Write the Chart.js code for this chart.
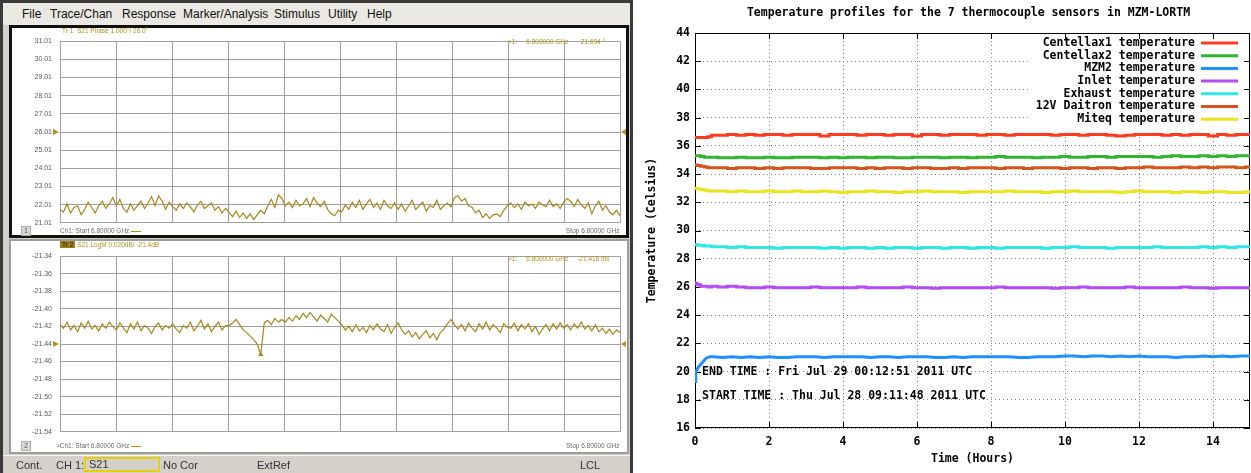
<!DOCTYPE html>
<html>
<head>
<meta charset="utf-8">
<script src="https://cdn.jsdelivr.net/npm/chart.js@4.4.1/dist/chart.umd.min.js"></script>
<style>
  body { margin:0; width:1251px; height:473px; overflow:hidden; background:#fff; position:relative; font-family:"Liberation Sans", Arial, sans-serif; }
  .a { position:absolute; white-space:nowrap; }
  #vna { left:0; top:0; width:633px; height:473px; background:#d4d1cb; box-sizing:border-box; border:3px solid #3a3a3a; border-bottom:none; }
  #menu { left:3px; top:3px; width:627px; height:22px; background:#eae8e2; }
  #menu span { position:absolute; top:4px; font-size:12px; color:#111; }
  #p1 { left:9px; top:25px; width:620px; height:213px; box-sizing:border-box; border:3px solid #111; background:#fff; }
  #p2 { left:9px; top:239px; width:620px; height:215px; box-sizing:border-box; border:2px solid #9c9c9c; background:#fff; }
  #status { left:3px; top:455px; width:627px; height:18px; background:#d4d1cb; border-top:1px solid #f4f4f4; font-size:11px; color:#333; }
  #status span { position:absolute; top:3px; }
  #s21box { position:absolute; left:81px; top:1px; width:76px; height:15px; box-sizing:border-box; border:2px solid #e6d200; padding-left:3px; line-height:11px; font-size:11px; color:#333; }
  canvas { position:absolute; }
  .g { font-size:6.5px; color:#b0901e; }
  .f { font-size:6.5px; color:#6a6a6a; }
  .num { font-size:6.5px; color:#555; background:#d8d8d8; border:1px solid #aaa; width:8px; height:8px; line-height:8px; text-align:center; }
</style>
</head>
<body>
<div id="vna" class="a"></div>
<div id="menu" class="a">
  <span style="left:19px">File</span>
  <span style="left:47px">Trace/Chan</span>
  <span style="left:119px">Response</span>
  <span style="left:180px">Marker/Analysis</span>
  <span style="left:271px">Stimulus</span>
  <span style="left:325px">Utility</span>
  <span style="left:364px">Help</span>
</div>
<div id="p1" class="a"></div>
<div id="p2" class="a"></div>
<canvas id="phase" width="614" height="206" style="left:12px;top:29px"></canvas>
<canvas id="mag" width="614" height="200" style="left:12px;top:244px"></canvas>

<div class="a g" style="left:62px;top:27px">Tr 1&nbsp; S21 Phase 1.000°/ 26.0°</div>
<div class="a g" style="left:508px;top:38px">&gt;1:&nbsp;&nbsp;&nbsp;&nbsp; 6.800000 GHz&nbsp;&nbsp;&nbsp;&nbsp;&nbsp;&nbsp; 21.694 °</div>
<div class="a num" style="left:21px;top:226px">1</div>
<div class="a f" style="left:60px;top:227px">Ch1: Start 6.80000 GHz <span style="display:inline-block;width:10px;border-top:1px solid #b0901e;vertical-align:middle"></span></div>
<div class="a f" style="left:566px;top:227px">Stop 6.80000 GHz</div>

<div class="a g" style="left:60px;top:241px"><span style="background:#9c7e1c;color:#2a2000;padding:0 2px">Tr 2</span> S21 LogM 0.020dB/ -21.4dB</div>
<div class="a g" style="left:508px;top:255px">&gt;1:&nbsp;&nbsp;&nbsp;&nbsp; 6.800000 GHz&nbsp;&nbsp;&nbsp;&nbsp; -21.416 dB</div>
<div class="a num" style="left:21px;top:441px">2</div>
<div class="a f" style="left:56px;top:442px">&gt;Ch1: Start 6.80000 GHz <span style="display:inline-block;width:10px;border-top:1px solid #b0901e;vertical-align:middle"></span></div>
<div class="a f" style="left:566px;top:442px">Stop 6.80000 GHz</div>

<div id="status" class="a">
  <span style="left:13px">Cont.</span>
  <span style="left:53px">CH 1:</span>
  <div id="s21box">S21</div>
  <span style="left:160px">No Cor</span>
  <span style="left:254px">ExtRef</span>
  <span style="left:577px">LCL</span>
</div>

<canvas id="temps" width="611" height="473" style="left:640px;top:0px"></canvas>

<script>
// ---- network analyzer panels ----
const phaseTicks = [21.01, 22.01, 23.01, 24.01, 25.01, 26.01, 27.01, 28.01, 29.01, 30.01, 31.01];
const magTicks = [-21.54, -21.52, -21.50, -21.48, -21.46, -21.44, -21.42, -21.40, -21.38, -21.36, -21.34];
const divisions = [0, 1, 2, 3, 4, 5, 6, 7, 8, 9, 10];
const phaseRef = 26.01;
const magRef = -21.44;
const markerIndex = 57;

const phaseTrace = [
  21.75, 21.6, 22.05, 21.55, 21.85, 21.95, 21.45, 21.75, 22.15, 21.85, 21.55, 21.95, 22.2, 21.8, 22.05, 22.4,
  21.95, 22.3, 21.8, 21.6, 22.05, 21.7, 21.95, 22.2, 21.8, 22.1, 22.45, 21.95, 22.5, 22.2, 21.75, 22.15,
  21.9, 21.7, 22.05, 21.8, 22.1, 21.9, 21.6, 22.0, 22.2, 21.8, 21.95, 22.1, 21.7, 21.9, 21.55, 21.8,
  21.6, 21.35, 21.65, 21.3, 21.55, 21.25, 21.5, 21.2, 21.45, 21.7, 21.5, 21.95, 22.3, 21.85, 22.55, 22.35,
  21.95, 22.15, 21.85, 22.25, 21.95, 22.05, 22.35, 21.9, 22.4, 22.1, 21.9, 22.2, 21.75, 21.5, 21.4, 21.7,
  21.6, 22.0, 21.75, 22.15, 21.85, 22.25, 21.75, 22.05, 22.3, 21.85, 22.1, 21.75, 22.25, 21.95, 21.8, 22.1,
  21.75, 22.05, 21.65, 21.95, 22.25, 21.75, 21.95, 22.15, 21.65, 21.95, 21.85, 22.25, 21.75, 21.95, 22.1, 21.9,
  22.4, 22.5, 22.2, 22.35, 21.95, 21.85, 21.55, 21.7, 21.3, 21.5, 21.25, 21.45, 21.5, 21.35, 21.7, 21.95,
  22.1, 21.85, 22.05, 21.75, 22.15, 21.95, 22.05, 21.8, 22.15, 22.0, 21.9, 22.25, 21.9, 22.05, 21.8, 22.15,
  22.35, 22.2, 21.9, 22.3, 22.0, 21.8, 22.1, 21.5, 21.95, 22.2, 21.7, 21.95, 21.6, 21.45, 21.7, 21.4
];

const magTrace = [
  -21.418, -21.422, -21.415, -21.424, -21.419, -21.426, -21.416, -21.422, -21.414, -21.423, -21.419, -21.425, -21.417, -21.422, -21.415, -21.42,
  -21.424, -21.416, -21.422, -21.427, -21.417, -21.423, -21.415, -21.425, -21.419, -21.422, -21.428, -21.42, -21.416, -21.424, -21.419, -21.422,
  -21.417, -21.423, -21.427, -21.419, -21.422, -21.415, -21.425, -21.42, -21.413, -21.423, -21.417, -21.426, -21.42, -21.415, -21.424, -21.419,
  -21.419, -21.416, -21.412, -21.418, -21.424, -21.427, -21.431, -21.435, -21.44, -21.452, -21.416, -21.413, -21.418, -21.411, -21.415, -21.412,
  -21.415, -21.41, -21.414, -21.408, -21.412, -21.405, -21.41, -21.404, -21.409, -21.414, -21.407, -21.411, -21.415, -21.406, -21.41, -21.414,
  -21.418, -21.424, -21.42, -21.426, -21.418, -21.425, -21.421, -21.427, -21.419, -21.424, -21.417, -21.423, -21.426, -21.418, -21.428, -21.421,
  -21.416, -21.424, -21.429, -21.425, -21.432, -21.427, -21.434, -21.429, -21.425, -21.433, -21.428, -21.435, -21.427, -21.423, -21.417, -21.412,
  -21.418, -21.423, -21.418, -21.425, -21.416, -21.422, -21.426, -21.417, -21.423, -21.415, -21.424, -21.418, -21.422, -21.427, -21.417, -21.421,
  -21.422, -21.416, -21.425, -21.418, -21.423, -21.417, -21.426, -21.42, -21.429, -21.423, -21.418, -21.425, -21.417, -21.423, -21.416, -21.422,
  -21.418, -21.424, -21.417, -21.422, -21.415, -21.423, -21.419, -21.425, -21.418, -21.426, -21.422, -21.428, -21.423, -21.429, -21.424, -21.427
];

// ---- gnuplot temperature chart ----
const chartTitle = "Temperature profiles for the 7 thermocouple sensors in MZM-LORTM";
const hourTicks = [0, 2, 4, 6, 8, 10, 12, 14];
const tempTicks = [16, 18, 20, 22, 24, 26, 28, 30, 32, 34, 36, 38, 40, 42, 44];
const endTime = "END TIME : Fri Jul 29 00:12:51 2011 UTC";
const startTime = "START TIME : Thu Jul 28 09:11:48 2011 UTC";
const seriesNames = ["Centellax1 temperature", "Centellax2 temperature", "MZM2 temperature", "Inlet temperature",
  "Exhaust temperature", "12V Daitron temperature", "Miteq temperature"];
const seriesColors = ["#ff3b1f", "#2fb52f", "#1e8fff", "#b44cf2", "#2ee6e6", "#d2561c", "#ece21e"];

const hours = [0, 0.02, 0.1, 0.2, 0.3, 0.4, 0.5, 0.75,
  1, 1.25, 1.5, 1.75, 2, 2.25, 2.5, 2.75, 3, 3.25, 3.5, 3.75, 4, 4.25, 4.5, 4.75,
  5, 5.25, 5.5, 5.75, 6, 6.25, 6.5, 6.75, 7, 7.25, 7.5, 7.75, 8, 8.25, 8.5, 8.75,
  9, 9.25, 9.5, 9.75, 10, 10.25, 10.5, 10.75, 11, 11.25, 11.5, 11.75, 12, 12.25, 12.5, 12.75,
  13, 13.25, 13.5, 13.75, 14, 14.25, 14.5, 14.75, 15];

const centellax1 = [36.6, 36.6, 36.6, 36.6, 36.6, 36.65, 36.75, 36.75,
  36.8, 36.75, 36.8, 36.75, 36.8, 36.8, 36.75, 36.8, 36.8, 36.8, 36.7, 36.8, 36.8, 36.8, 36.75, 36.8,
  36.8, 36.75, 36.8, 36.8, 36.7, 36.8, 36.8, 36.75, 36.8, 36.8, 36.8, 36.75, 36.8, 36.8, 36.75, 36.8,
  36.8, 36.8, 36.8, 36.75, 36.8, 36.8, 36.75, 36.8, 36.8, 36.75, 36.7, 36.75, 36.8, 36.8, 36.8, 36.75,
  36.8, 36.75, 36.8, 36.8, 36.7, 36.8, 36.75, 36.8, 36.8];
const centellax2 = [35.3, 35.3, 35.3, 35.25, 35.2, 35.2, 35.2, 35.15,
  35.15, 35.2, 35.15, 35.15, 35.2, 35.15, 35.15, 35.2, 35.2, 35.2, 35.15, 35.2, 35.15, 35.2, 35.2, 35.15,
  35.2, 35.2, 35.15, 35.15, 35.2, 35.2, 35.2, 35.15, 35.2, 35.2, 35.15, 35.2, 35.2, 35.25, 35.2, 35.2,
  35.2, 35.15, 35.2, 35.2, 35.25, 35.2, 35.2, 35.25, 35.25, 35.2, 35.25, 35.25, 35.25, 35.25, 35.2, 35.25,
  35.3, 35.25, 35.25, 35.3, 35.25, 35.3, 35.25, 35.3, 35.3];
const mzm2 = [19.3, 20.0, 20.35, 20.65, 20.95, 21.05, 21.05, 21.0,
  21.05, 21.0, 21.05, 21.0, 21.05, 21.0, 21.0, 21.05, 21.05, 21.05, 21.0, 21.05, 21.05, 21.05, 21.05, 21.0,
  21.05, 21.05, 21.0, 21.05, 21.05, 21.05, 21.0, 21.0, 21.05, 21.0, 21.05, 21.05, 21.05, 21.05, 21.05, 21.0,
  21.0, 21.05, 21.05, 21.05, 21.1, 21.1, 21.05, 21.1, 21.1, 21.05, 21.1, 21.05, 21.1, 21.05, 21.05, 21.05,
  21.0, 21.05, 21.05, 21.1, 21.05, 21.1, 21.05, 21.1, 21.1];
const inlet = [26.3, 26.25, 26.15, 26.05, 26.05, 26.0, 26.05, 26.0,
  26.05, 26.0, 25.95, 25.95, 26.0, 25.95, 25.95, 25.95, 25.95, 26.0, 25.95, 25.95, 25.95, 25.95, 26.0, 25.95,
  25.95, 25.95, 25.95, 26.0, 25.95, 25.95, 25.9, 25.95, 25.95, 25.95, 25.95, 25.95, 25.95, 26.0, 25.95, 25.95,
  25.95, 25.95, 25.95, 25.9, 25.95, 25.95, 26.0, 25.95, 25.95, 25.95, 25.95, 26.0, 25.95, 25.95, 25.95, 25.95,
  25.95, 26.0, 25.95, 25.95, 25.9, 25.95, 25.95, 25.95, 25.95];
const exhaust = [29.0, 29.0, 28.95, 28.95, 28.9, 28.9, 28.85, 28.85,
  28.8, 28.85, 28.8, 28.8, 28.8, 28.75, 28.8, 28.8, 28.8, 28.8, 28.75, 28.8, 28.75, 28.8, 28.8, 28.75,
  28.8, 28.75, 28.8, 28.8, 28.75, 28.8, 28.8, 28.75, 28.8, 28.8, 28.75, 28.8, 28.8, 28.75, 28.8, 28.8,
  28.8, 28.8, 28.75, 28.8, 28.8, 28.85, 28.8, 28.8, 28.8, 28.75, 28.8, 28.8, 28.8, 28.8, 28.85, 28.8,
  28.8, 28.8, 28.8, 28.85, 28.8, 28.85, 28.8, 28.85, 28.85];
const daitron = [34.65, 34.65, 34.6, 34.55, 34.5, 34.45, 34.45, 34.45,
  34.4, 34.45, 34.45, 34.4, 34.45, 34.4, 34.45, 34.45, 34.45, 34.4, 34.4, 34.45, 34.45, 34.45, 34.4, 34.45,
  34.4, 34.45, 34.45, 34.4, 34.45, 34.45, 34.4, 34.4, 34.45, 34.4, 34.45, 34.45, 34.45, 34.4, 34.45, 34.45,
  34.4, 34.45, 34.45, 34.45, 34.4, 34.45, 34.45, 34.4, 34.45, 34.45, 34.4, 34.45, 34.45, 34.5, 34.45, 34.45,
  34.45, 34.5, 34.45, 34.5, 34.45, 34.5, 34.5, 34.45, 34.5];
const miteq = [33.0, 33.0, 32.95, 32.9, 32.85, 32.8, 32.8, 32.8,
  32.75, 32.8, 32.75, 32.75, 32.8, 32.75, 32.75, 32.8, 32.75, 32.75, 32.8, 32.75, 32.7, 32.75, 32.75, 32.8,
  32.75, 32.75, 32.7, 32.75, 32.75, 32.8, 32.75, 32.75, 32.75, 32.7, 32.75, 32.75, 32.75, 32.75, 32.8, 32.75,
  32.75, 32.75, 32.7, 32.75, 32.75, 32.8, 32.75, 32.75, 32.75, 32.75, 32.7, 32.75, 32.8, 32.75, 32.75, 32.75,
  32.7, 32.75, 32.75, 32.7, 32.75, 32.75, 32.7, 32.7, 32.75];
const allSeries = [centellax1, centellax2, mzm2, inlet, exhaust, daitron, miteq];

const traceGold = "#a8861c";
const gridGray = "#a0a0a0";

// reference level arrows on both sides of a VNA grid
const refArrows = {
  id: "refArrow",
  afterDraw(chart, args, opts) {
    const {ctx, chartArea: a} = chart;
    const y = chart.scales.y.getPixelForValue(opts.value);
    ctx.save();
    ctx.fillStyle = "#b8901a";
    ctx.beginPath();
    ctx.moveTo(a.left - 7, y - 3); ctx.lineTo(a.left - 1, y); ctx.lineTo(a.left - 7, y + 3); ctx.closePath();
    ctx.moveTo(a.right + 6, y - 3); ctx.lineTo(a.right + 1, y); ctx.lineTo(a.right + 6, y + 3); ctx.closePath();
    ctx.fill();
    ctx.restore();
  }
};

function vnaChart(id, values, ticks, refValue, pad, withMarker) {
  const last = values.length - 1;
  return new Chart(document.getElementById(id), {
    type: "line",
    data: {
      datasets: [{
        data: values.map((v, i) => ({x: i, y: v})),
        borderColor: traceGold,
        borderWidth: 1.2,
        tension: 0,
        pointStyle: "triangle",
        pointRadius: c => (withMarker && c.dataIndex === markerIndex) ? 3 : 0,
        pointBackgroundColor: traceGold,
        pointBorderWidth: 0
      }]
    },
    options: {
      responsive: false, animation: false, events: [],
      layout: {padding: {top: pad[0], bottom: pad[1], left: 0, right: 6}},
      plugins: {legend: {display: false}, tooltip: {enabled: false}, refArrow: {value: refValue}},
      scales: {
        x: {
          type: "linear", min: 0, max: last,
          afterBuildTicks: s => { s.ticks = divisions.map(d => ({value: d * last / 10})); },
          afterFit: s => { s.height = 0; },
          ticks: {display: false},
          grid: {color: gridGray, drawTicks: false},
          border: {display: false}
        },
        y: {
          min: ticks[0], max: ticks[ticks.length - 1],
          afterBuildTicks: s => { s.ticks = ticks.map(v => ({value: v})); },
          afterFit: s => { s.width = 48; },
          ticks: {font: {family: "Liberation Sans", size: 7}, color: "#5a5a5a", padding: 8, autoSkip: false,
                  callback: v => v.toFixed(2)},
          grid: {color: gridGray, drawTicks: false},
          border: {display: false}
        }
      }
    },
    plugins: [refArrows]
  });
}

vnaChart("phase", phaseTrace, phaseTicks, phaseRef, [8, 10], false);
vnaChart("mag", magTrace, magTicks, magRef, [10, 8], true);

// gnuplot style frame, inward ticks, key, title and labels
const gpFont = {family: "DejaVu Sans Mono", size: 11.5, weight: "bold"};
const gpCss = 'bold 11.5px "DejaVu Sans Mono"';

const gnuplotFrame = {
  id: "gnuplotFrame",
  beforeDatasetsDraw(chart) {
    const {ctx, chartArea: a, scales: {x, y}} = chart;
    const rows = chart.data.datasets.length;
    ctx.save();
    // key background hides the grid
    ctx.fillStyle = "#fff";
    ctx.fillRect(a.right - 220, a.top + 1, 219, 10 + rows * 12.7);
    ctx.strokeStyle = "#000";
    ctx.lineWidth = 1;
    ctx.strokeRect(a.left + 0.5, a.top + 0.5, a.right - a.left - 1, a.bottom - a.top - 1);
    ctx.beginPath();
    hourTicks.forEach(v => {
      const px = Math.round(x.getPixelForValue(v)) + 0.5;
      ctx.moveTo(px, a.bottom); ctx.lineTo(px, a.bottom - 6);
      ctx.moveTo(px, a.top); ctx.lineTo(px, a.top + 6);
    });
    tempTicks.forEach(v => {
      const py = Math.round(y.getPixelForValue(v)) + 0.5;
      ctx.moveTo(a.left, py); ctx.lineTo(a.left + 6, py);
      ctx.moveTo(a.right, py); ctx.lineTo(a.right - 6, py);
    });
    ctx.stroke();
    // key
    ctx.font = gpCss;
    ctx.textAlign = "right";
    ctx.textBaseline = "middle";
    chart.data.datasets.forEach((ds, i) => {
      const ry = a.top + 10 + i * 12.7;
      ctx.fillStyle = "#000";
      ctx.fillText(ds.label, a.right - 55, ry);
      ctx.strokeStyle = ds.borderColor;
      ctx.lineWidth = 3;
      ctx.beginPath();
      ctx.moveTo(a.right - 49, ry); ctx.lineTo(a.right - 12, ry);
      ctx.stroke();
    });
    // time labels
    ctx.textAlign = "left";
    ctx.fillStyle = "#000";
    ctx.fillText(endTime, x.getPixelForValue(0.19), y.getPixelForValue(20.0));
    ctx.fillText(startTime, x.getPixelForValue(0.19), y.getPixelForValue(18.25));
    // title
    ctx.textAlign = "center";
    ctx.fillText(chartTitle, (a.left + a.right) / 2 - 4, 13);
    ctx.restore();
  }
};

new Chart(document.getElementById("temps"), {
  type: "line",
  data: {
    datasets: allSeries.map((s, k) => ({
      label: seriesNames[k],
      data: hours.map((h, i) => ({x: h, y: s[i]})),
      borderColor: seriesColors[k],
      borderWidth: 3,
      pointRadius: 0,
      tension: 0,
      stepped: k === 2 ? false : "middle"
    }))
  },
  options: {
    responsive: false, animation: false, events: [],
    layout: {padding: {top: 33, bottom: 0, left: 0, right: 1}},
    plugins: {legend: {display: false}, tooltip: {enabled: false}},
    scales: {
      x: {
        type: "linear", min: 0, max: 15,
        afterBuildTicks: s => { s.ticks = hourTicks.map(v => ({value: v})); },
        afterFit: s => { s.height = 45; },
        ticks: {font: gpFont, color: "#000", padding: 7, maxRotation: 0, autoSkip: false},
        grid: {color: "#808080", drawTicks: false},
        border: {display: false, dash: [1, 3]},
        title: {display: true, text: "Time (Hours)", font: gpFont, color: "#000", padding: {top: 0, bottom: 7}}
      },
      y: {
        min: 16, max: 44,
        afterBuildTicks: s => { s.ticks = tempTicks.map(v => ({value: v})); },
        afterFit: s => { s.width = 55; },
        ticks: {font: gpFont, color: "#000", padding: 5, autoSkip: false},
        grid: {color: "#808080", drawTicks: false},
        border: {display: false, dash: [1, 3]},
        title: {display: true, text: "Temperature (Celsius)", font: gpFont, color: "#000", padding: {top: 5, bottom: 0}}
      }
    }
  },
  plugins: [gnuplotFrame]
});
</script>
</body>
</html>
